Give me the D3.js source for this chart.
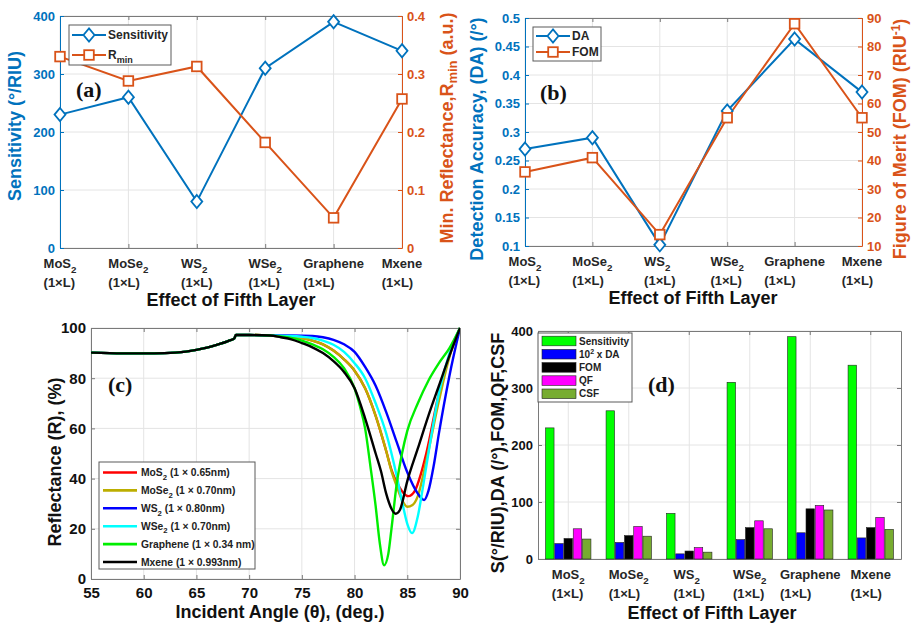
<!DOCTYPE html>
<html>
<head>
<meta charset="utf-8">
<script src="https://cdn.jsdelivr.net/npm/d3@7.9.0/dist/d3.min.js"></script>
<style>
  body { margin: 0; background: #fff; }
  svg text { font-family: "Liberation Sans", Arial, sans-serif; font-weight: bold; }
  svg text.tag { font-family: "Liberation Serif", "Times New Roman", serif; }
</style>
</head>
<body>
<svg id="fig" width="914" height="627"></svg>
<script>
// ---- data ----
const layerNames = ["MoS2", "MoSe2", "WS2", "WSe2", "Graphene", "Mxene"];
const sensitivity = [230, 260, 80, 310, 390, 340];
const rMin = [0.33, 0.288, 0.313, 0.182, 0.052, 0.257];
const detectionAccuracy = [0.27, 0.29, 0.102, 0.337, 0.463, 0.37];
const figureOfMerit = [36, 41, 14, 55, 88, 55];
const daTimes100 = [27, 29, 9, 34, 46, 37];
const qualityFactor = [53, 57, 20, 67, 94, 73];
const csf = [35, 40, 12, 53, 86, 52];

const sensTicks = [0, 100, 200, 300, 400];
const rMinTicks = [0, 0.1, 0.2, 0.3, 0.4];
const daTicks = [0.1, 0.15, 0.2, 0.25, 0.3, 0.35, 0.4, 0.45, 0.5];
const fomTicks = [10, 20, 30, 40, 50, 60, 70, 80, 90];
const angleTicks = [55, 60, 65, 70, 75, 80, 85, 90];
const reflTicks = [0, 20, 40, 60, 80, 100];
const barTicks = [0, 100, 200, 300, 400];

// reflectance curves [angle (deg), R (%)]
const sharedStart = [[55, 90.2], [58, 89.9], [61, 89.9], [63, 90.2], [64, 90.6], [65, 91.3], [66, 92.2],
  [67, 93.4], [68, 94.8], [68.6, 95.9], [68.75, 97.2], [70, 97.2], [72, 97]];
const tailMoS2 = [[73, 96.7], [74, 96.4], [75, 96], [76, 95], [77, 93.5], [78, 91], [79, 87.5], [80, 83],
  [81, 76], [82, 65], [83, 51], [83.5, 43.5], [84, 38.5], [84.5, 35], [85.1, 33], [85.7, 35], [86.3, 42],
  [86.8, 50], [88, 74], [89, 89], [90, 100]];
const tailMoSe2 = [[73, 96.7], [74, 96.4], [75, 96], [76, 95], [77, 93.5], [78, 91], [79, 87.5], [80, 83],
  [81, 76], [82, 65], [83, 51], [83.5, 43], [84, 37], [84.5, 31.5], [85, 28.8], [85.5, 29.5], [86, 33],
  [86.8, 47], [88, 71], [89, 88.5], [90, 100]];
const tailWS2 = [[74, 97], [76, 96.8], [77, 96.3], [78, 95.3], [79, 93.5], [80, 90.5], [81, 84.5], [82, 77],
  [83, 66.5], [84, 54.5], [85, 42.5], [86, 34], [86.6, 31.5], [87, 35], [87.5, 45], [88, 58], [89, 81], [90, 100]];
const tailWSe2 = [[74, 96.8], [75, 96.5], [76, 96], [77, 95], [78, 93.3], [79, 90.5], [80, 86], [81, 80],
  [82, 70], [83, 58], [84, 41], [84.5, 31], [85, 22], [85.45, 18.3], [86, 25], [86.5, 37], [87, 50],
  [88, 74], [89, 90], [90, 100]];
const tailGraphene = [[73, 96.6], [74, 96], [75, 95], [76, 93.5], [77, 91.5], [78, 88.5], [79, 84], [80, 76],
  [80.5, 69], [81, 60], [81.5, 45], [82, 29], [82.4, 14], [82.8, 5.5], [83.2, 10], [83.5, 20], [84, 38],
  [84.5, 50], [85, 59], [86, 70], [87, 79], [88, 86], [89, 92], [90, 100]];
const tailMxene = [[73, 96.3], [74, 95.5], [75, 94], [76, 92.3], [77, 90], [78, 86.8], [79, 82.5], [80, 76],
  [81, 64], [82, 50], [82.5, 43], [83, 34], [83.5, 28], [83.9, 26], [84.3, 27.5], [85, 39], [86, 52],
  [87, 65], [88, 77], [89, 89], [90, 100]];
const curveThickness = ["(1 \u00d7 0.65nm)", "(1 \u00d7 0.70nm)", "(1 \u00d7 0.80nm)", "(1 \u00d7 0.70nm)",
  "(1 \u00d7 0.34 nm)", "(1 \u00d7 0.993nm)"];
const curveTails = [tailMoS2, tailMoSe2, tailWS2, tailWSe2, tailGraphene, tailMxene];
const curveColors = ["#ff0000", "#bcae00", "#0000ff", "#00ffff", "#00ee00", "#000000"];

const barSeries = ["Sensitivity", "DA", "FOM", "QF", "CSF"];
const barValues = [sensitivity, daTimes100, figureOfMerit, qualityFactor, csf];
const barColors = ["#00ff00", "#0000ff", "#000000", "#ff00ff", "#77ac30"];

// ---- helpers ----
const BLUE = "#0072bd", ORANGE = "#d95319", FRAME = "#7a7a7a", GRID = "#e4e4e4", LEGEND_EDGE = "#5a5a5a";
const svg = d3.select("#fig");
svg.append("rect").attr("width", 914).attr("height", 627).attr("fill", "#fff");

// writes formula with trailing digit as subscript; returns sub offset still applied
function addChem(t, name, fs, drop) {
  const m = name.match(/^(.*?)(\d)$/);
  if (!m) { t.append("tspan").text(name); return 0; }
  const off = fs * (drop || 0.3);
  t.append("tspan").text(m[1]);
  t.append("tspan").attr("dy", off).attr("font-size", fs * 0.75).text(m[2]);
  return off;
}

function styleAxis(sel, color, fs) {
  sel.attr("font-size", fs);
  sel.select(".domain").attr("stroke", color);
  sel.selectAll(".tick line").attr("stroke", color);
  sel.selectAll(".tick text").attr("fill", color);
}

// two-line tick labels, left aligned as a block centred on the tick
function layerLabels(g, x, y0, fs) {
  layerNames.forEach(name => {
    const t1 = g.append("text").attr("y", y0).attr("font-size", fs).attr("fill", "#262626");
    addChem(t1, name, fs, 0.42);
    const t2 = g.append("text").attr("y", y0 + 19).attr("font-size", fs).attr("fill", "#262626").text("(1\u00d7L)");
    const w = Math.max(t1.node().getComputedTextLength(), t2.node().getComputedTextLength());
    const left = x(name) - w / 2;
    t1.attr("x", left);
    t2.attr("x", left);
  });
}

function yLabel(g, x, y, color, build) {
  const t = g.append("text").attr("transform", `translate(${x},${y}) rotate(-90)`)
    .attr("text-anchor", "middle").attr("dy", "0.35em").attr("font-size", 18).attr("fill", color);
  build(t);
}

const diamond = s => `M0,${-s * 1.2}L${s},0L0,${s * 1.2}L${-s},0Z`;

function drawMarker(g, kind, cx, cy, color) {
  if (kind === "diamond") {
    g.append("path").attr("d", diamond(5.5)).attr("transform", `translate(${cx},${cy})`)
      .attr("fill", "#fff").attr("stroke", color).attr("stroke-width", 1.8);
  } else {
    g.append("rect").attr("x", cx - 4.8).attr("y", cy - 4.8).attr("width", 9.6).attr("height", 9.6)
      .attr("fill", "#fff").attr("stroke", color).attr("stroke-width", 1.8);
  }
}

// ---- panels (a) and (b): two y axes ----
function dualPanel(p) {
  const g = svg.append("g");
  const x = d3.scalePoint().domain(layerNames).range([p.left, p.right]);
  const yL = d3.scaleLinear().domain(d3.extent(p.leftTicks)).range([p.bottom, p.top]);
  const yR = d3.scaleLinear().domain(d3.extent(p.rightTicks)).range([p.bottom, p.top]);

  g.append("g").selectAll("line").data(layerNames).join("line")
    .attr("x1", d => x(d)).attr("x2", d => x(d)).attr("y1", p.top).attr("y2", p.bottom).attr("stroke", GRID);
  g.append("g").selectAll("line").data(p.leftTicks).join("line")
    .attr("x1", p.left).attr("x2", p.right).attr("y1", d => yL(d)).attr("y2", d => yL(d)).attr("stroke", GRID);

  g.append("g").attr("transform", `translate(0,${p.bottom})`)
    .call(d3.axisBottom(x).tickSizeInner(-4).tickSizeOuter(0).tickFormat(""))
    .call(s => styleAxis(s, FRAME, 13));
  g.append("g").attr("transform", `translate(0,${p.top})`)
    .call(d3.axisTop(x).tickSizeInner(-4).tickSizeOuter(0).tickFormat(""))
    .call(s => styleAxis(s, FRAME, 13));
  g.append("g").attr("transform", `translate(${p.left},0)`)
    .call(d3.axisLeft(yL).tickValues(p.leftTicks).tickFormat(d3.format("~g")).tickSizeInner(-4).tickSizeOuter(0).tickPadding(5))
    .call(s => styleAxis(s, BLUE, 13));
  g.append("g").attr("transform", `translate(${p.right},0)`)
    .call(d3.axisRight(yR).tickValues(p.rightTicks).tickFormat(d3.format("~g")).tickSizeInner(-4).tickSizeOuter(0).tickPadding(5))
    .call(s => styleAxis(s, ORANGE, 13));

  const lineL = d3.line().x((d, i) => x(layerNames[i])).y(d => yL(d));
  const lineR = d3.line().x((d, i) => x(layerNames[i])).y(d => yR(d));
  g.append("path").attr("d", lineL(p.leftValues)).attr("fill", "none").attr("stroke", BLUE).attr("stroke-width", 2);
  g.append("path").attr("d", lineR(p.rightValues)).attr("fill", "none").attr("stroke", ORANGE).attr("stroke-width", 2);
  p.leftValues.forEach((v, i) => drawMarker(g, "diamond", x(layerNames[i]), yL(v), BLUE));
  p.rightValues.forEach((v, i) => drawMarker(g, "square", x(layerNames[i]), yR(v), ORANGE));

  // legend
  const L = p.legend;
  g.append("rect").attr("x", L.x).attr("y", L.y).attr("width", L.w).attr("height", L.h)
    .attr("fill", "#fff").attr("stroke", LEGEND_EDGE).attr("stroke-width", 1);
  [[BLUE, "diamond"], [ORANGE, "square"]].forEach(([c, k], i) => {
    const cy = L.rows[i];
    g.append("line").attr("x1", L.x1).attr("x2", L.x2).attr("y1", cy).attr("y2", cy).attr("stroke", c).attr("stroke-width", 2);
    drawMarker(g, k, (L.x1 + L.x2) / 2, cy, c);
    const t = g.append("text").attr("x", L.tx).attr("y", cy).attr("dy", "0.35em").attr("font-size", 12).attr("fill", "#262626");
    L.labels[i](t);
  });

  g.append("text").attr("class", "tag").attr("x", p.tag[0]).attr("y", p.tag[1]).attr("font-size", 22).attr("fill", "#111").text(p.tagText);
  layerLabels(g, x, p.bottom + 20, 13);
  g.append("text").attr("x", p.titleX).attr("y", p.bottom + 58).attr("text-anchor", "middle")
    .attr("font-size", 18).attr("fill", "#111").text("Effect of Fifth Layer");
  yLabel(g, p.leftLabelX, p.leftLabelY, BLUE, p.leftLabel);
  yLabel(g, p.rightLabelX, p.rightLabelY, ORANGE, p.rightLabel);
}

dualPanel({
  left: 60, right: 402, top: 16, bottom: 248,
  leftTicks: sensTicks, rightTicks: rMinTicks, leftValues: sensitivity, rightValues: rMin,
  legend: { x: 69, y: 25, w: 102, h: 40, x1: 72, x2: 106, tx: 108, rows: [35, 55],
    labels: [t => t.text("Sensitivity"),
      t => { t.append("tspan").text("R"); t.append("tspan").attr("dy", 4).attr("font-size", 9).text("min"); }] },
  tag: [76, 97], tagText: "(a)", titleX: 231,
  leftLabelX: 15, leftLabelY: 126, leftLabel: t => t.text("Sensitivity (\u00b0/RIU)"),
  rightLabelX: 447, rightLabelY: 128,
  rightLabel: t => {
    t.append("tspan").text("Min. Reflectance,R");
    t.append("tspan").attr("dy", 4).attr("font-size", 13).text("min");
    t.append("tspan").attr("dy", -4).text(" (a.u.)");
  }
});

dualPanel({
  left: 525, right: 862, top: 18, bottom: 246,
  leftTicks: daTicks, rightTicks: fomTicks, leftValues: detectionAccuracy, rightValues: figureOfMerit,
  legend: { x: 533, y: 27, w: 68, h: 34, x1: 536, x2: 570, tx: 572, rows: [36, 52],
    labels: [t => t.text("DA"), t => t.text("FOM")] },
  tag: [540, 100], tagText: "(b)", titleX: 693,
  leftLabelX: 477, leftLabelY: 139, leftLabel: t => t.text("Detection Accuracy, (DA) (/\u00b0)"),
  rightLabelX: 900, rightLabelY: 139,
  rightLabel: t => {
    t.append("tspan").text("Figure of Merit (FOM) (RIU");
    t.append("tspan").attr("dy", -6).attr("font-size", 12).text("-1");
    t.append("tspan").attr("dy", 6).text(")");
  }
});

// ---- panel (c): reflectance curves ----
(function () {
  const c = { left: 91, right: 460, top: 328, bottom: 579 };
  const g = svg.append("g");
  const x = d3.scaleLinear().domain(d3.extent(angleTicks)).range([c.left, c.right]);
  const y = d3.scaleLinear().domain(d3.extent(reflTicks)).range([c.bottom, c.top]);

  g.append("g").selectAll("line").data(angleTicks).join("line")
    .attr("x1", d => x(d)).attr("x2", d => x(d)).attr("y1", c.top).attr("y2", c.bottom).attr("stroke", GRID);
  g.append("g").selectAll("line").data(reflTicks).join("line")
    .attr("x1", c.left).attr("x2", c.right).attr("y1", d => y(d)).attr("y2", d => y(d)).attr("stroke", GRID);

  g.append("g").attr("transform", `translate(0,${c.bottom})`)
    .call(d3.axisBottom(x).tickValues(angleTicks).tickSizeInner(-4).tickSizeOuter(0).tickPadding(8))
    .call(s => styleAxis(s, FRAME, 15)).call(s => s.selectAll("text").attr("fill", "#111"));
  g.append("g").attr("transform", `translate(0,${c.top})`)
    .call(d3.axisTop(x).tickValues(angleTicks).tickSizeInner(-4).tickSizeOuter(0).tickFormat(""))
    .call(s => styleAxis(s, FRAME, 15));
  g.append("g").attr("transform", `translate(${c.left},0)`)
    .call(d3.axisLeft(y).tickValues(reflTicks).tickSizeInner(-4).tickSizeOuter(0).tickPadding(5))
    .call(s => styleAxis(s, FRAME, 15)).call(s => s.selectAll("text").attr("fill", "#111"));
  g.append("g").attr("transform", `translate(${c.right},0)`)
    .call(d3.axisRight(y).tickValues(reflTicks).tickSizeInner(-4).tickSizeOuter(0).tickFormat(""))
    .call(s => styleAxis(s, FRAME, 15));

  svg.append("clipPath").attr("id", "clipC").append("rect")
    .attr("x", c.left).attr("y", c.top - 2).attr("width", c.right - c.left).attr("height", c.bottom - c.top + 2);
  const line = d3.line().x(d => x(d[0])).y(d => y(d[1])).curve(d3.curveMonotoneX);
  curveTails.forEach((tail, i) => {
    g.append("path").attr("d", line(sharedStart.concat(tail))).attr("clip-path", "url(#clipC)")
      .attr("fill", "none").attr("stroke", curveColors[i]).attr("stroke-width", 2.4);
  });

  // legend
  g.append("rect").attr("x", 99).attr("y", 462).attr("width", 156).attr("height", 107)
    .attr("fill", "#fff").attr("stroke", LEGEND_EDGE);
  layerNames.forEach((name, i) => {
    const cy = 472.5 + i * 17.9;
    g.append("line").attr("x1", 103).attr("x2", 137).attr("y1", cy).attr("y2", cy)
      .attr("stroke", curveColors[i]).attr("stroke-width", 2.6);
    const t = g.append("text").attr("x", 141).attr("y", cy).attr("dy", "0.35em").attr("font-size", 10.3).attr("fill", "#222");
    const off = addChem(t, name, 10.3, 0.35);
    t.append("tspan").attr("dy", -off).text(" " + curveThickness[i]);
  });

  g.append("text").attr("class", "tag").attr("x", 108).attr("y", 392).attr("font-size", 22).attr("fill", "#111").text("(c)");
  g.append("text").attr("x", 280).attr("y", 618).attr("text-anchor", "middle").attr("font-size", 18).attr("fill", "#111")
    .text("Incident Angle (\u03b8), (deg.)");
  yLabel(g, 55, 462, "#111", t => t.text("Reflectance (R), (%)"));
})();

// ---- panel (d): grouped bars ----
(function () {
  const d = { left: 538, right: 901, top: 331, bottom: 559 };
  const g = svg.append("g");
  const x = d3.scaleBand().domain(layerNames).range([d.left, d.right]).padding(0);
  const inner = d3.scaleBand().domain(barSeries).range([0, x.bandwidth() * 0.75]).paddingInner(0.08);
  const y = d3.scaleLinear().domain(d3.extent(barTicks)).range([d.bottom, d.top]);
  const groupOffset = x.bandwidth() * 0.125;

  g.append("g").selectAll("line").data(layerNames).join("line")
    .attr("x1", n => x(n) + x.bandwidth() / 2).attr("x2", n => x(n) + x.bandwidth() / 2)
    .attr("y1", d.top).attr("y2", d.bottom).attr("stroke", GRID);
  g.append("g").selectAll("line").data(barTicks).join("line")
    .attr("x1", d.left).attr("x2", d.right).attr("y1", v => y(v)).attr("y2", v => y(v)).attr("stroke", GRID);

  g.append("g").attr("transform", `translate(0,${d.bottom})`)
    .call(d3.axisBottom(x).tickSizeInner(-4).tickSizeOuter(0).tickFormat(""))
    .call(s => styleAxis(s, FRAME, 13));
  g.append("g").attr("transform", `translate(0,${d.top})`)
    .call(d3.axisTop(x).tickSizeInner(-4).tickSizeOuter(0).tickFormat(""))
    .call(s => styleAxis(s, FRAME, 13));
  g.append("g").attr("transform", `translate(${d.left},0)`)
    .call(d3.axisLeft(y).tickValues(barTicks).tickSizeInner(-4).tickSizeOuter(0).tickPadding(5))
    .call(s => styleAxis(s, FRAME, 13)).call(s => s.selectAll("text").attr("fill", "#111"));
  g.append("g").attr("transform", `translate(${d.right},0)`)
    .call(d3.axisRight(y).tickValues(barTicks).tickSizeInner(-4).tickSizeOuter(0).tickFormat(""))
    .call(s => styleAxis(s, FRAME, 13));

  barSeries.forEach((s, si) => {
    g.append("g").selectAll("rect").data(barValues[si]).join("rect")
      .attr("x", (v, i) => x(layerNames[i]) + groupOffset + inner(s))
      .attr("width", inner.bandwidth())
      .attr("y", v => y(v)).attr("height", v => y(0) - y(v))
      .attr("fill", barColors[si]).attr("stroke", "#222").attr("stroke-width", 0.6);
  });

  // legend
  g.append("rect").attr("x", 538).attr("y", 333).attr("width", 94).attr("height", 69)
    .attr("fill", "#fff").attr("stroke", LEGEND_EDGE);
  const legendText = [t => t.text("Sensitivity"),
    t => { t.append("tspan").text("10"); t.append("tspan").attr("dy", -4).attr("font-size", 7).text("2");
           t.append("tspan").attr("dy", 4).text(" x DA"); },
    t => t.text("FOM"), t => t.text("QF"), t => t.text("CSF")];
  barSeries.forEach((s, i) => {
    const cy = 341 + i * 13.2;
    g.append("rect").attr("x", 542).attr("y", cy - 4.8).attr("width", 34).attr("height", 9.6)
      .attr("fill", barColors[i]).attr("stroke", "#222").attr("stroke-width", 0.6);
    const t = g.append("text").attr("x", 579).attr("y", cy).attr("dy", "0.35em").attr("font-size", 10).attr("fill", "#222");
    legendText[i](t);
  });

  g.append("text").attr("class", "tag").attr("x", 648).attr("y", 392).attr("font-size", 22).attr("fill", "#111").text("(d)");
  const xc = n => x(n) + x.bandwidth() / 2;
  layerLabels(g, xc, d.bottom + 20, 13);
  g.append("text").attr("x", 712).attr("y", 619).attr("text-anchor", "middle").attr("font-size", 18).attr("fill", "#111")
    .text("Effect of Fifth Layer");
  yLabel(g, 498, 453, "#111", t => t.text("S(\u00b0/RIU),DA (/\u00b0),FOM,QF,CSF"));
})();
</script>
</body>
</html>
